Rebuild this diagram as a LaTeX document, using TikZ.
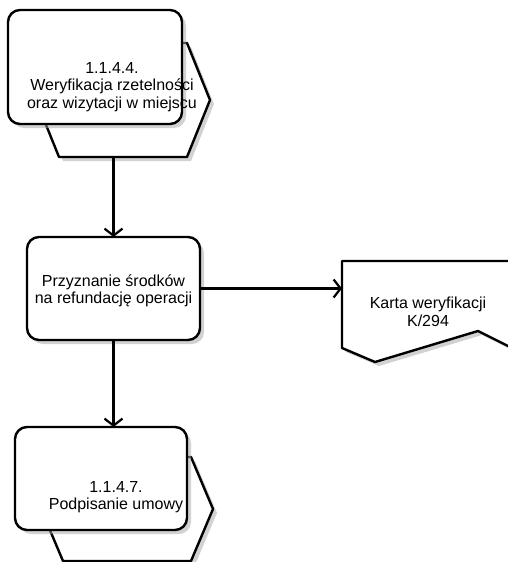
\documentclass[tikz,border=0pt]{standalone}
\usepackage{fontspec}
\setmainfont{Liberation Sans}
\usetikzlibrary{arrows.meta,calc,shadows}
\begin{document}
\begin{tikzpicture}[x=1pt,y=-1pt,
  frame/.style={inner sep=0pt,outer sep=0pt},
  shade/.style={drop shadow={shadow xshift=4pt,shadow yshift=-4pt,fill=black!35,opacity=0.5}},
  outline/.style={draw,line width=2.4pt,fill=white,line join=round,shade},
  box/.style={outline,rounded corners=12pt,inner sep=0pt,outer sep=0pt},
  arr/.style={-{Straight Barb[length=7pt,width=18pt]},line width=2.2pt},
  lbl/.style={align=center,font=\fontsize{16}{17.5}\selectfont}]
\fill[white] (0,0) rectangle (508,562);
\clip (0,0) rectangle (508,562);

% sub-process 1.1.4.4: hexagon behind a rounded box
\node[frame,minimum width=174pt,minimum height=114pt] (a-back) at (123,100) {};
\draw[outline] ($(a-back.north west)+(23pt,0)$) -- ($(a-back.north east)+(-23pt,0)$)
  -- (a-back.east) -- ($(a-back.south east)+(-23pt,0)$)
  -- ($(a-back.south west)+(23pt,0)$) -- (a-back.west) -- cycle;
\node[box,minimum width=174pt,minimum height=114pt] (a) at (95,67) {};
\node[lbl] (ta) at (112,87) {1.1.4.4.\\Weryfikacja rzetelności\\oraz wizytacji w miejscu};

% decision step
\node[box,minimum width=173pt,minimum height=103pt] (b) at (113.5,288.5) {};
\node[lbl] (tb) at (113.5,291) {Przyznanie środków\\na refundację operacji};

% document: verification card
\node[frame,minimum width=170pt,minimum height=101pt] (k) at (427,311.5) {};
\draw[outline] (k.north west) -- (k.north east) -- ($(k.south east)+(0,14pt)$)
  -- ($(k.south east)+(-34pt,31pt)$) -- ($(k.south west)+(33pt,0)$)
  -- ($(k.south west)+(0,14pt)$) -- cycle;
\node[lbl] (tk) at (428,312) {Karta weryfikacji\\K/294};

% sub-process 1.1.4.7
\node[frame,minimum width=172pt,minimum height=104pt] (c-back) at (127,509) {};
\draw[outline] ($(c-back.north west)+(22pt,0)$) -- ($(c-back.north east)+(-22pt,0)$)
  -- (c-back.east) -- ($(c-back.south east)+(-22pt,0)$)
  -- ($(c-back.south west)+(22pt,0)$) -- (c-back.west) -- cycle;
\node[box,minimum width=172pt,minimum height=103pt] (c) at (101,478.5) {};
\node[lbl] (tc) at (116,497) {1.1.4.7.\\Podpisanie umowy};

% connectors
\draw[arr] (b.north |- a-back.south) -- (b.north);
\draw[arr] (b.south) -- (b.south |- c.north);
\draw[arr] (b.east) -- (b.east -| k.west);
\end{tikzpicture}
\end{document}
